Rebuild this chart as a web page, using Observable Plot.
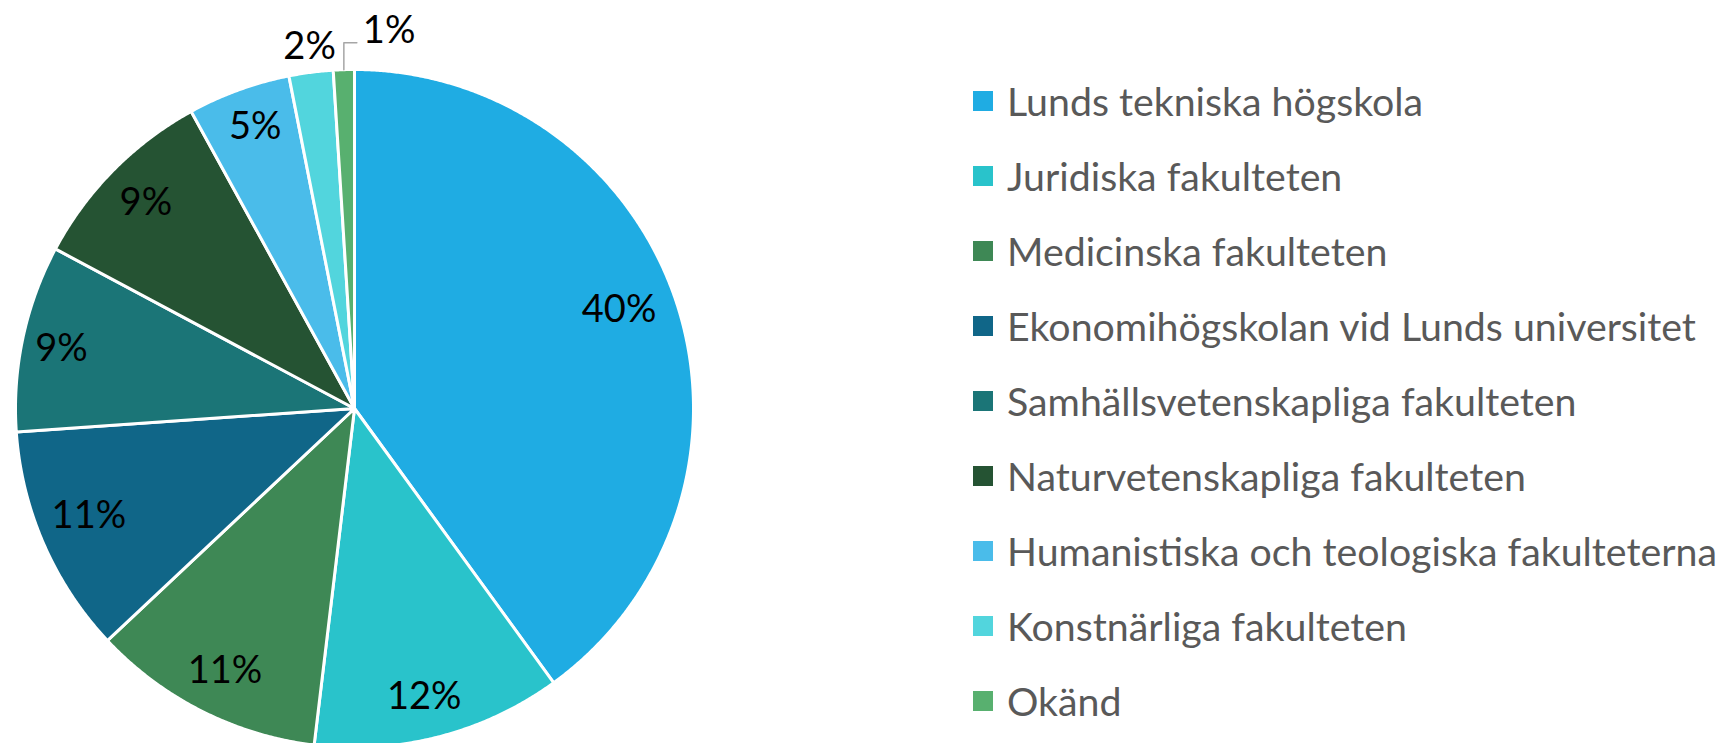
<!DOCTYPE html>
<html>
<head>
<meta charset="utf-8">
<script src="https://cdn.jsdelivr.net/npm/d3@7"></script>
<script src="https://cdn.jsdelivr.net/npm/@observablehq/plot@0.6"></script>
<style>
  html, body { margin: 0; padding: 0; background: #fff; }
  #wrap { position: relative; width: 1724px; height: 743px; overflow: hidden; }
  #chart { position: absolute; left: 0; top: 0; }
  #legend { position: absolute; left: 973px; top: 0; font-family: Lato, "Open Sans", sans-serif; color: #595959; }
  .item { position: absolute; left: 0; display: flex; align-items: center; white-space: nowrap; height: 40px; line-height: 40px; }
  .sw { width: 20px; height: 20px; margin-right: 14px; flex: none; }
</style>
</head>
<body>
<div id="wrap"><div id="chart"></div><div id="legend"></div></div>
<script>
// Data, clockwise from 12 o'clock
const categories = [
  "Lunds tekniska högskola",
  "Juridiska fakulteten",
  "Medicinska fakulteten",
  "Ekonomihögskolan vid Lunds universitet",
  "Samhällsvetenskapliga fakulteten",
  "Naturvetenskapliga fakulteten",
  "Humanistiska och teologiska fakulteterna",
  "Konstnärliga fakulteten",
  "Okänd"
];
const shares = [40.0, 11.9, 11.1, 10.9, 8.9, 9.2, 4.9, 2.1, 1.0];
const labels = ["40%", "12%", "11%", "11%", "9%", "9%", "5%", "2%", "1%"];
const colors = ["#1FACE3", "#29C3CB", "#3E8855", "#106688", "#1B7577", "#255333", "#4ABCEA", "#52D5DD", "#58B06F"];

// layout (not data)
const CX = 354, CY = 408, R = 339;
const labelRadius = [0.83, 0.875, 0.86, 0.855, 0.92, 0.865, 0.865, 1.077, null];
const labelNudge = [[-3, -12], [-5, 1], [2, 2], [0, -9], [12, 5], [0, 0], [1, -6], [2, 0], null];

const total = d3.sum(shares);
let acc = 0;
const slices = shares.map((v, i) => {
  const a0 = acc / total * 2 * Math.PI;
  acc += v;
  const a1 = acc / total * 2 * Math.PI;
  return {i, name: categories[i], value: v, label: labels[i], a0, a1, mid: (a0 + a1) / 2};
});

function arcPoints(s) {
  const pts = [{x: 0, y: 0}];
  const n = Math.max(4, Math.ceil((s.a1 - s.a0) / 0.005));
  for (let k = 0; k <= n; k++) {
    const a = s.a0 + (s.a1 - s.a0) * k / n;
    pts.push({x: Math.sin(a), y: Math.cos(a)});
  }
  pts.push({x: 0, y: 0});
  return pts;
}

const sliceMarks = slices.map(s =>
  Plot.line(arcPoints(s), {x: "x", y: "y", fill: colors[s.i], stroke: "#fff", strokeWidth: 3, strokeLinejoin: "round", curve: "linear"})
);

const px = 1 / R; // one pixel in data units
const inside = slices.filter(s => labelRadius[s.i] != null).map(s => ({
  x: labelRadius[s.i] * Math.sin(s.mid) + labelNudge[s.i][0] * px,
  y: labelRadius[s.i] * Math.cos(s.mid) - labelNudge[s.i][1] * px,
  text: s.label
}));

// leader for the smallest slice
const last = slices[slices.length - 1];
const lx = Math.sin(last.mid), ly = Math.cos(last.mid);
const leader = [
  {x: lx, y: ly},
  {x: lx, y: ly + 27 * px},
  {x: lx + 13 * px, y: ly + 27 * px}
];
const leaderLabel = [{x: lx + 13 * px, y: ly + 27 * px, text: last.label}];

const font = "Lato, 'Open Sans', sans-serif";
const chart = Plot.plot({
  width: 960,
  height: 743,
  x: {domain: [-1, 1], range: [CX - R, CX + R], axis: null},
  y: {domain: [-1, 1], range: [CY + R, CY - R], axis: null},
  style: {background: "transparent", overflow: "hidden"},
  marks: [
    ...sliceMarks,
    Plot.text(inside, {x: "x", y: "y", text: "text", fill: "#000", fontSize: 38, fontFamily: font}),
    Plot.line(leader, {x: "x", y: "y", stroke: "#A6A6A6", strokeWidth: 1.5, curve: "linear"}),
    Plot.text(leaderLabel, {x: "x", y: "y", text: "text", fill: "#000", fontSize: 38, fontFamily: font, textAnchor: "start", dx: 6, dy: -12})
  ]
});
document.getElementById("chart").appendChild(chart);

// legend
const legend = document.getElementById("legend");
categories.forEach((c, i) => {
  const item = document.createElement("div");
  item.className = "item";
  item.style.top = (101 + i * 75 - 20) + "px";
  item.style.fontSize = "39.3px";
  const sw = document.createElement("span");
  sw.className = "sw";
  sw.style.background = colors[i];
  const t = document.createElement("span");
  t.textContent = c;
  item.appendChild(sw);
  item.appendChild(t);
  legend.appendChild(item);
});
</script>
</body>
</html>
